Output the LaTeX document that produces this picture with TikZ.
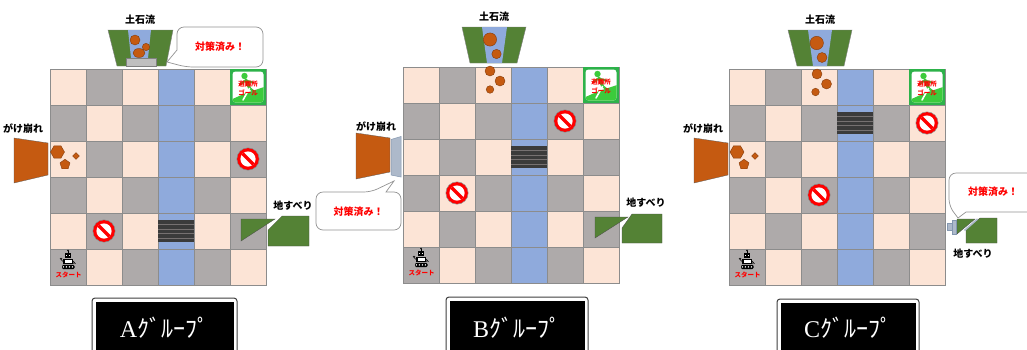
\documentclass[tikz,border=0pt]{standalone}
\usepackage{fontspec}
\newfontfamily\jp{Noto Sans CJK JP}
\newfontfamily\lserif{Liberation Serif}
\usetikzlibrary{shapes.geometric}

\definecolor{peach}{HTML}{FCE4D6}
\definecolor{cellgray}{HTML}{AEAAAA}
\definecolor{river}{HTML}{8FAADC}
\definecolor{grass}{HTML}{548235}
\definecolor{mud}{HTML}{C55A11}
\definecolor{mudline}{HTML}{843C0C}
\definecolor{gridline}{HTML}{8C8C8C}
\definecolor{bridgedark}{HTML}{3B3B3B}
\definecolor{bridgeline}{HTML}{767171}
\definecolor{goalgreen}{HTML}{2DB24A}
\definecolor{runner}{HTML}{3CCB3C}
\definecolor{guard}{HTML}{ADB9CA}
\definecolor{guardline}{HTML}{8497B0}
\definecolor{barrier}{HTML}{BFBFBF}
\definecolor{alertred}{HTML}{FF0000}

\tikzset{
  lbl/.style={font=\jp\bfseries\fontsize{10}{12}\selectfont, inner sep=0},
  donetext/.style={font=\jp\bfseries\fontsize{10}{12}\selectfont, text=alertred, inner sep=0},
  smallred/.style={font=\jp\bfseries\fontsize{6.5}{7}\selectfont, text=alertred, inner sep=0},
  callout/.style={draw=gray!85, fill=white, line width=0.7},
  rock/.style={fill=mud, draw=mudline, line width=0.4},
  slide/.style={fill=grass, draw=gray!60!black, line width=0.3},
  grouptext/.style={text=white, inner sep=0, font=\fontsize{24}{26}\selectfont},
}

% 6x6 board: checkerboard with a river in the fourth column
\newcommand\drawboard[2]{%
  \begin{scope}[shift={(#1,#2)}]
    \foreach \r in {0,...,5}{%
      \foreach \c in {0,...,5}{%
        \pgfmathtruncatemacro\cellpar{mod(\r+\c,2)}%
        \ifnum\c=3 \def\cellfill{river}\else\ifnum\cellpar=0 \def\cellfill{peach}\else\def\cellfill{cellgray}\fi\fi
        \filldraw[fill=\cellfill, draw=gridline, line width=0.5] (36*\c,36*\r) rectangle ++(36,36);
      }%
    }%
  \end{scope}}

% no-entry sign centred at (#1,#2)
\newcommand\noentry[2]{%
  \begin{scope}[shift={(#1,#2)}]
    \fill[alertred] (0,0) circle (11);
    \draw[gray, line width=0.4] (0,0) circle (11.2);
    \fill[white] (0,0) circle (7.6);
    \begin{scope}
      \clip (0,0) circle (7.6);
      \draw[alertred, line width=3.4] (-9,-9) -- (9,9);
    \end{scope}
  \end{scope}}

% bridge across the river, top-left corner at (#1,#2)
\newcommand\bridge[2]{%
  \begin{scope}[shift={(#1,#2)}]
    \fill[bridgedark] (0,0) rectangle (36,22);
    \foreach \s in {4.5,9,13.5,18}{\draw[bridgeline, line width=0.9] (0,\s) -- (36,\s);}
  \end{scope}}

% shelter (goal) icon filling the cell with top-left corner (#2,#3)
\newcommand\goalicon[3]{%
  \begin{scope}[shift={(#2,#3)}]
    \fill[goalgreen] (0,0) rectangle (36,36);
    \fill[white, rounded corners=3] (2.5,2.5) rectangle (33.5,33.5);
    \begin{scope}
      \clip[rounded corners=3] (2.5,2.5) rectangle (33.5,33.5);
      \fill[runner] (2.5,34) -- (2.5,30) -- (16,24) -- (34,18) -- (34,34) -- cycle;
      \fill[runner] (14.5,7) circle (3.2);
      \draw[runner, line width=3, line cap=round] (16,11) -- (19.5,19);
      \draw[runner, line width=2, line cap=round] (10.5,15) -- (15.5,11.5) -- (23,13.5);
      \draw[runner, line width=2.2, line cap=round] (19.5,19) -- (24.5,23) -- (25,29);
      \draw[white, line width=1.6, line cap=round] (19.5,19.5) -- (13,31);
    \end{scope}
    \node[smallred] (#1-a) at (18,15.5) {避難所};
    \node[smallred] (#1-b) at (18,24) {ゴール};
  \end{scope}}

% robot at the start cell with top-left corner (#2,#3)
\newcommand\robot[3]{%
  \begin{scope}[shift={(#2,#3)}]
    \draw[line width=0.6] (18,1.5) -- (18,4);
    \fill (18,1.5) circle (0.9);
    \fill (15,4) rectangle (21,9);
    \fill[white] (16.3,5.6) rectangle (17.3,6.6);
    \fill[white] (18.7,5.6) rectangle (19.7,6.6);
    \fill (13,9.8) rectangle (23,15);
    \fill[white] (14.5,11) rectangle (21.5,13.6);
    \draw[line width=0.6] (13,12.5) -- (11,10.5) -- (10,9) (11,10.5) -- (12,9);
    \draw[line width=0.6] (23,12) -- (25.5,14.8) (24.2,13.3) -- (23.6,14.8);
    \fill[rounded corners=1.2] (12,15.8) rectangle (24.5,20);
    \foreach \t in {14,17,20,23}{\fill[white] (\t-0.6,17.9) circle (0.8);}
    \node[smallred] (#1) at (18.5,26) {スタート};
  \end{scope}}

% group caption: framed black plate, left (#2,#3) right #4
\newcommand\grouplabel[5]{%
  \draw[line width=1, draw=black!75, fill=white, rounded corners=3] (#2,#3) rectangle (#4,360);
  \fill[black] (#2+4,#3+4) rectangle (#4-3.5,360);
  \node[grouptext, anchor=base] (#1) at ({(#2+#4)/2},337) {#5};}

\begin{document}
\begin{tikzpicture}[x=1pt,y=-1pt]
\useasboundingbox (0,0) rectangle (1027,349);
\clip (0,0) rectangle (1027,349);
\fill[white] (0,0) rectangle (1027,349);

%==================== A group ====================
\drawboard{50}{69}
\begin{scope}[shift={(50,69)}]
  \noentry{198}{90}
  \noentry{54}{162}
  \bridge{108}{151}
\end{scope}
\goalicon{goalA}{230}{69}
\robot{startA}{50}{249}

% debris flow with a check dam
\node[lbl] (debrisA) at (140,20) {土石流};
\filldraw[fill=grass, draw=gray, line width=0.4] (108,30) -- (173,30) -- (166,66) -- (117,66) -- cycle;
\fill[river] (128,30) -- (151,30) -- (148,58) -- (131,58) -- cycle;
\filldraw[rock] (135,40) circle (5);
\filldraw[rock] (146,47) circle (3.7);
\filldraw[rock] (139,53) ellipse (6 and 4.5);
\filldraw[fill=barrier, draw=gray, line width=0.4] (126,58) rectangle (156,66);
\draw[callout] (167,62) -- (177,50) [rounded corners=7] -- (177,27) -- (263,27) -- (263,67) -- (186,67) [sharp corners] -- cycle;
\node[donetext] (doneA) at (220,47) {対策済み！};

% slope failure
\node[lbl] (cliffA) at (23,129) {がけ崩れ};
\filldraw[fill=mud, draw=gray!70!black, line width=0.3] (14,138) -- (48,143) -- (48,175) -- (14,183) -- cycle;
\node[regular polygon, regular polygon sides=6, minimum size=14, rock, inner sep=0] (hexA) at (57.5,152) {};
\node[regular polygon, regular polygon sides=5, minimum size=10.5, rock, inner sep=0] (pentA) at (65,164.5) {};
\node[diamond, minimum size=7, rock, inner sep=0] (diaA) at (76,156) {};

% landslide
\node[lbl] (slideA) at (293,206) {地すべり};
\filldraw[slide] (241,219) -- (275,219) -- (241,241) -- cycle;
\filldraw[slide] (282,216) -- (309,216) -- (309,246) -- (268,246) -- (268,230) -- cycle;

\grouplabel{capA}{92}{298}{237}{{\lserif A}{\jp ｸﾞﾙｰﾌﾟ}}

%==================== B group ====================
\drawboard{403}{67}
\begin{scope}[shift={(403,67)}]
  \noentry{162}{54}
  \noentry{54}{126}
  \bridge{108}{79}
\end{scope}
\goalicon{goalB}{583}{67}
\robot{startB}{403}{247}

\node[lbl] (debrisB) at (494,17) {土石流};
\filldraw[fill=grass, draw=gray, line width=0.4] (462,27) -- (526,27) -- (517,63) -- (470,63) -- cycle;
\fill[river] (482,27) -- (507,27) -- (502,63) -- (487,63) -- cycle;
\filldraw[rock] (490,39.5) circle (6.6);
\filldraw[rock] (496.5,54) circle (4.7);
\filldraw[rock] (490,71) circle (5);
\filldraw[rock] (500,81) circle (5);
\filldraw[rock] (490,89.5) circle (3.8);

\node[lbl] (cliffB) at (376,126.5) {がけ崩れ};
\filldraw[fill=mud, draw=gray!70!black, line width=0.3] (356,133) -- (390,138) -- (390,172) -- (356,179) -- cycle;
\filldraw[fill=guard, draw=guardline, line width=0.5] (391,139.5) -- (401,136.5) -- (401,177) -- (391,175) -- cycle;
\draw[callout] (394,181) -- (386,192) [rounded corners=7] -- (401,192) -- (401,230) -- (316,230) -- (316,192) -- (371,192) [sharp corners] -- cycle;
\node[donetext] (doneB) at (358.5,211.5) {対策済み！};

\node[lbl] (slideB) at (646,203) {地すべり};
\filldraw[slide] (595,217) -- (628,217) -- (595,238) -- cycle;
\filldraw[slide] (632,214) -- (662,214) -- (662,243) -- (622,243) -- (622,228) -- cycle;

\grouplabel{capB}{446}{297}{588}{{\lserif B}{\jp ｸﾞﾙｰﾌﾟ}}

%==================== C group ====================
\drawboard{729}{69}
\begin{scope}[shift={(729,69)}]
  \noentry{198}{54}
  \noentry{90}{126}
  \bridge{108}{43}
\end{scope}
\goalicon{goalC}{909}{69}
\robot{startC}{729}{249}

\node[lbl] (debrisC) at (820,20) {土石流};
\filldraw[fill=grass, draw=gray, line width=0.4] (788,30) -- (852,30) -- (844,66) -- (797,66) -- cycle;
\fill[river] (808,30) -- (832,30) -- (827,66) -- (813,66) -- cycle;
\filldraw[rock] (816.7,43) circle (6.7);
\filldraw[rock] (822,57.5) circle (5);
\filldraw[rock] (817,74) circle (5);
\filldraw[rock] (826.5,84) circle (5);
\filldraw[rock] (815.5,92) circle (3.8);

\node[lbl] (cliffC) at (703,129) {がけ崩れ};
\filldraw[fill=mud, draw=gray!70!black, line width=0.3] (694,138) -- (728,143) -- (728,175) -- (694,183) -- cycle;
\node[regular polygon, regular polygon sides=6, minimum size=14, rock, inner sep=0] (hexC) at (737,152) {};
\node[regular polygon, regular polygon sides=5, minimum size=10.5, rock, inner sep=0] (pentC) at (744,164.5) {};
\node[diamond, minimum size=7, rock, inner sep=0] (diaC) at (755,156) {};

% landslide held by an anchor
\filldraw[slide] (957,219) -- (975,219) -- (957,234) -- cycle;
\filldraw[slide] (980,218) -- (997,218) -- (997,243) -- (966,243) -- (966,229) -- cycle;
\draw[guard, line width=1.6] (977.5,219) -- (964.5,230.5);
\filldraw[fill=guard, draw=guardline, line width=0.5] (952,220) rectangle (956.5,234);
\filldraw[fill=guard, draw=guardline, line width=0.5] (947.5,223.5) rectangle (952,230.5);
\node[lbl] (slideC) at (973,254) {地すべり};
\draw[callout] (958,218) -- (966,212) [rounded corners=7] -- (1040,212) -- (1040,173) -- (949,173) -- (949,206) [sharp corners] -- cycle;
\node[donetext] (doneC) at (993,192) {対策済み！};

\grouplabel{capC}{777}{299}{919}{{\lserif C}{\jp ｸﾞﾙｰﾌﾟ}}
\end{tikzpicture}
\end{document}
